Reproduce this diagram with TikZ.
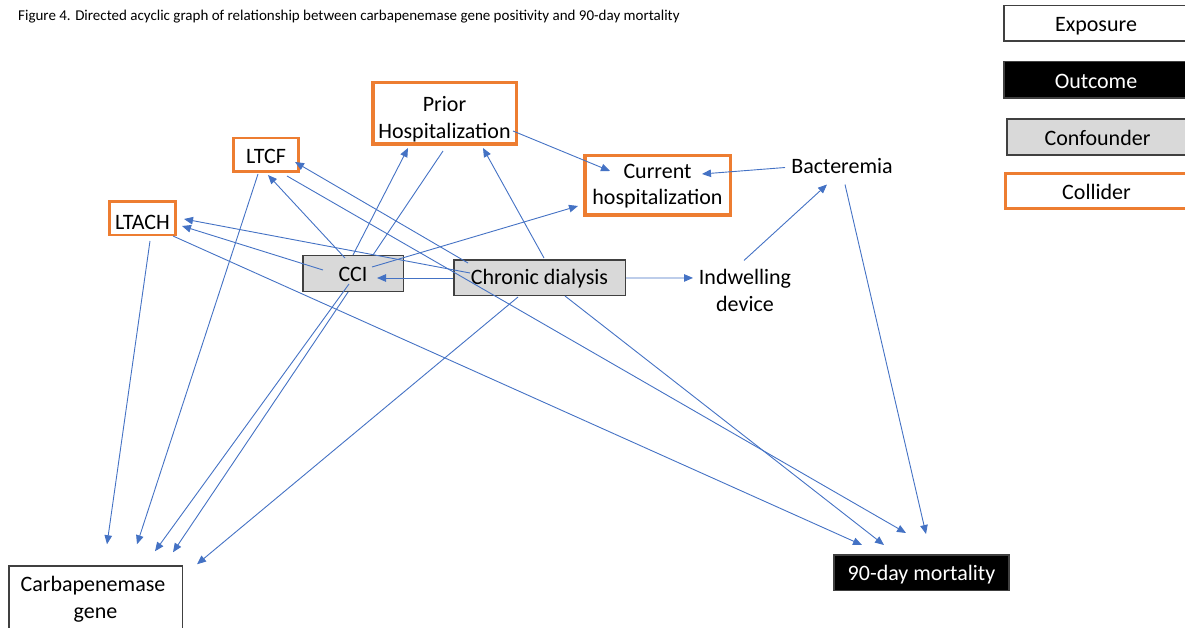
\documentclass[tikz,border=0pt]{standalone}
\usepackage{fontspec}
\setmainfont{Carlito}
\usetikzlibrary{arrows.meta}
\definecolor{arrowblue}{HTML}{4472C4}
\definecolor{collorange}{HTML}{ED7D31}
\definecolor{confgray}{HTML}{D9D9D9}
\definecolor{boxedge}{HTML}{404040}
\pgfdeclarelayer{edgelayer}
\pgfsetlayers{edgelayer,main}
\newcommand{\mylines}[2]{\begin{tabular}[t]{@{}c@{}}#1\\#2\end{tabular}}
\begin{document}
\begin{tikzpicture}[x=1pt,y=-1pt,
  txt/.style={font=\fontsize{22}{26.5}\selectfont, inner sep=0pt},
  bstd/.style={text height=20.2pt, text depth=3.8pt},
  titletext/.style={font=\fontsize{15}{17}\selectfont, anchor=base west, inner sep=0pt},
  collthick/.style={txt, draw=collorange, line width=3.5pt, fill=white},
  collthin/.style={txt, draw=collorange, line width=2.5pt, fill=white},
  confbox/.style={txt, draw=boxedge, line width=1.5pt, fill=confgray},
  expbox/.style={txt, draw=boxedge, line width=1.5pt, fill=white},
  outbox/.style={txt, draw=boxedge, line width=1.5pt, fill=black, text=white},
  arr/.style={draw=arrowblue, line width=0.9pt, -{Triangle[length=9pt,width=7.5pt]}}
]
\useasboundingbox (0,0) rectangle (1185,628);

% title
\node[titletext] (title) at (18,21) {Figure 4. Directed acyclic graph of relationship between carbapenemase gene positivity and 90-day mortality};

% legend
\node[expbox, bstd, minimum width=184pt, minimum height=35.5pt] (legexp) at (1096,23.5) {Exposure};
\node[outbox, bstd, minimum width=184pt, minimum height=36.5pt] (legout) at (1096,80) {Outcome};
\node[confbox, bstd, minimum width=181pt, minimum height=36pt] (legconf) at (1097.5,137) {Confounder};
\node[collthin, bstd, minimum width=182pt, minimum height=35pt] (legcoll) at (1096.5,191.2) {Collider};

% diagram nodes
\node[collthick, text height=18pt, text depth=21.6pt, minimum width=143.5pt, minimum height=61.5pt] (prior) at (444.5,113.5) {\mylines{Prior}{Hospitalization}};
\node[collthin, text height=20.6pt, text depth=3.4pt, minimum width=65pt, minimum height=33.5pt] (ltcf) at (266,154.7) {LTCF};
\node[collthin, text height=23.7pt, text depth=0.3pt, minimum width=66pt, minimum height=33.5pt] (ltach) at (142.5,218.3) {LTACH};
\node[collthick, text height=15pt, text depth=29.4pt, minimum width=145.5pt, minimum height=59.5pt] (curr) at (657.5,185.5) {\mylines{Current}{hospitalization}};
\node[txt, anchor=base] (bact) at (842,174) {Bacteremia};
\node[txt, anchor=base] (indw) at (745,284.5) {\mylines{Indwelling}{device}};
\node[expbox, anchor=base, text height=25.7pt, text depth=60pt, minimum width=173.5pt] (carb) at (95.5,591.7) {\mylines{Carbapenemase\kern5pt}{gene}};
\node[outbox, bstd, minimum width=175pt, minimum height=35.5pt] (mort) at (921.5,572.5) {90-day mortality};
\node[confbox, bstd, minimum width=100.5pt, minimum height=35.5pt] (cci) at (353,273.5) {CCI};
\node[confbox, text height=18.3pt, text depth=5.7pt, minimum width=171.5pt, minimum height=35.5pt] (dial) at (539.5,277.7) {Chronic dialysis};

% the one edge that runs behind the CCI box
\begin{pgfonlayer}{edgelayer}
\draw[arr] ([shift={(-1.5,37.5)}]prior.center) -- ([shift={(77.5,-13)}]carb.north);
\end{pgfonlayer}

% other edges, drawn over the boxes
\draw[arr] ([shift={(68.5,17.5)}]prior.center) -- ([shift={(-47.5,-14.5)}]curr.center);
\draw[arr] ([shift={(-57,1)}]bact.center) -- ([shift={(44.5,-11.5)}]curr.center);
\draw[arr] ([shift={(-1,-32)}]indw.center) -- ([shift={(-15,18)}]bact.center);
\draw[arr] ([shift={(3,18)}]bact.center) -- ([shift={(4.5,-38.5)}]mort.center);
\draw[arr] ([shift={(-8,-15.5)}]cci.center) -- ([shift={(2,20.3)}]ltcf.center);
\draw[arr] ([shift={(-30,-3.5)}]cci.center) -- ([shift={(39.5,7.7)}]ltach.center);
\draw[arr] ([shift={(-69.5,-4.7)}]dial.center) -- ([shift={(41.5,0.7)}]ltach.center);
\draw[arr] ([shift={(-71.5,-14.7)}]dial.center) -- ([shift={(29,7.3)}]ltcf.center);
\draw[arr] ([shift={(0,-18.5)}]cci.center) -- ([shift={(-36.5,34.5)}]prior.center);
\draw[arr] ([shift={(4.5,-19.7)}]dial.center) -- ([shift={(38.5,34.5)}]prior.center);
\draw[arr] ([shift={(19,-6.5)}]cci.center) -- ([shift={(-79.5,20.5)}]curr.center);
\draw[arr] ([shift={(21,21.3)}]ltcf.center) -- ([shift={(-15.5,-39.5)}]mort.center);
\draw[arr] ([shift={(30.5,17.7)}]ltach.center) -- ([shift={(-59.5,-27.5)}]mort.center);
\draw[arr] ([shift={(25.5,18.3)}]dial.center) -- ([shift={(-37.5,-27.5)}]mort.center);
\draw[arr] ([shift={(7.5,22.7)}]ltach.center) -- ([shift={(11.5,-21)}]carb.north);
\draw[arr] ([shift={(-8,19.3)}]ltcf.center) -- ([shift={(41.5,-21)}]carb.north);
\draw[arr] ([shift={(-4,10.5)}]cci.center) -- ([shift={(59.5,-14)}]carb.north);
\draw[arr] ([shift={(-21.5,19.3)}]dial.center) -- ([shift={(101.5,-1)}]carb.north);
\draw[arr] ([shift={(-86.5,0.3)}]dial.center) -- ([shift={(24,4.5)}]cci.center);
\draw[arr] (dial.east |- 0,278) -- ([shift={(-52,-14.5)}]indw.center);
\end{tikzpicture}
\end{document}
